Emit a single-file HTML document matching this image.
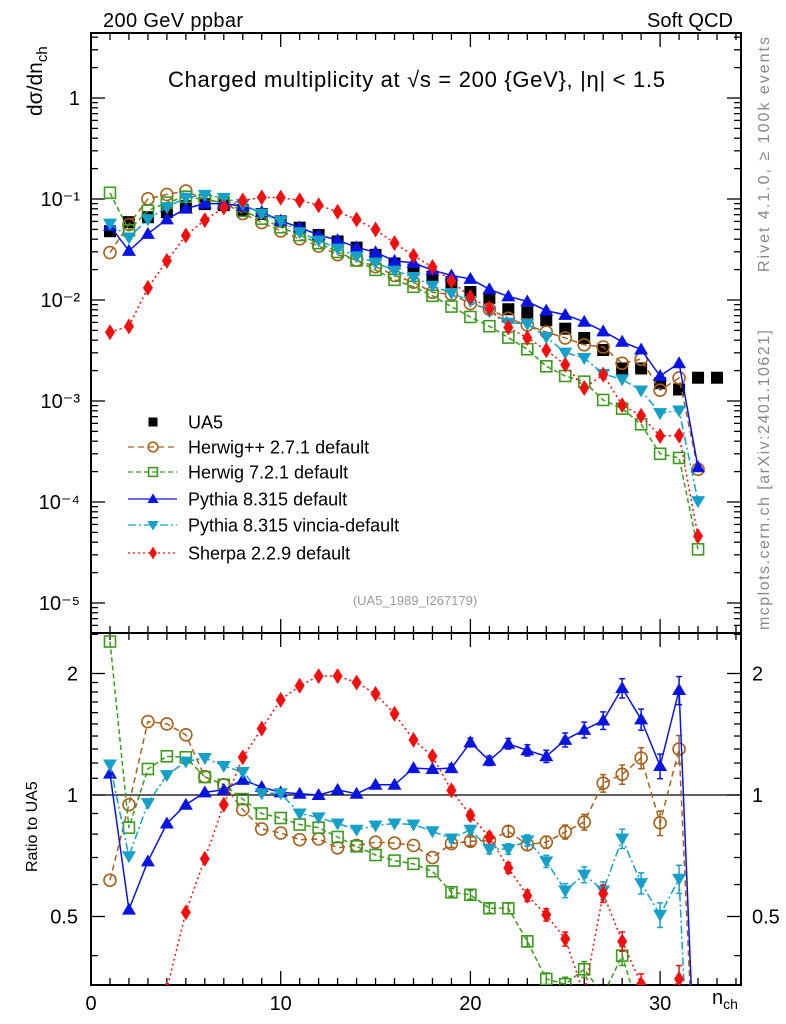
<!DOCTYPE html>
<html><head><meta charset="utf-8"><style>html,body{margin:0;background:#fff;overflow:hidden;width:786px;height:1024px}svg{display:block;font-family:"Liberation Sans",sans-serif}</style></head>
<body>
<svg id="c" width="786" height="1024" viewBox="0 0 786 1024">
<defs>
<clipPath id="cm"><rect x="91" y="33" width="650" height="600"/></clipPath>
<clipPath id="cr"><rect x="91" y="633" width="650" height="352"/></clipPath>
</defs>
<text x="103" y="27" font-size="20" textLength="140">200 GeV ppbar</text>
<text x="647" y="27" font-size="20" textLength="86">Soft QCD</text>
<text x="168" y="87" font-size="22" textLength="497">Charged multiplicity at √s = 200 {GeV}, |η| &lt; 1.5</text>
<text x="415" y="605" font-size="13" fill="#999" text-anchor="middle">(UA5_1989_I267179)</text>
<text transform="translate(42,116) rotate(-90)" font-size="21">dσ/dn<tspan font-size="15" dy="5">ch</tspan></text>
<text transform="translate(37,872) rotate(-90)" font-size="16">Ratio to UA5</text>
<text x="712" y="1004" font-size="20">n<tspan font-size="14" dy="5">ch</tspan></text>
<text transform="translate(769,272) rotate(-90)" font-size="16" fill="#888" textLength="235">Rivet 4.1.0, ≥ 100k events</text>
<text transform="translate(769,630) rotate(-90)" font-size="16" fill="#888" textLength="300">mcplots.cern.ch [arXiv:2401.10621]</text>
<g id="g"></g>
</svg>
<script>
const nch=[1,2,3,4,5,6,7,8,9,10,11,12,13,14,15,16,17,18,19,20,21,22,23,24,25,26,27,28,29,30,31,32,33];
const ua5=[0.048,0.059,0.066,0.074,0.085,0.089,0.087,0.078,0.071,0.06,0.052,0.044,0.038,0.033,0.028,0.023,0.020,0.017,0.015,0.012,0.0105,0.0081,0.0075,0.0063,0.0052,0.0042,0.0032,0.0021,0.0021,0.0015,0.0013,0.0017,0.0017];
const relErr=[0.01,0.01,0.01,0.01,0.01,0.01,0.01,0.01,0.01,0.01,0.012,0.012,0.013,0.014,0.015,0.016,0.018,0.02,0.022,0.025,0.027,0.03,0.032,0.035,0.04,0.045,0.05,0.055,0.06,0.07,0.08,0.09];
const rHerwigpp=[0.615,0.946,1.52,1.50,1.41,1.11,1.06,0.92,0.824,0.805,0.775,0.778,0.74,0.75,0.764,0.76,0.75,0.70,0.758,0.768,0.772,0.813,0.753,0.764,0.81,0.857,1.07,1.125,1.235,0.853,1.30,0.124];
const rHerwig7=[2.4,0.83,1.16,1.247,1.24,1.108,1.06,0.977,0.90,0.877,0.845,0.83,0.787,0.746,0.71,0.688,0.675,0.647,0.574,0.566,0.524,0.524,0.434,0.35,0.34,0.37,0.32,0.40,0.28,0.20,0.21,0.02];
const rPythia=[1.13,0.52,0.685,0.85,0.946,1.015,1.03,1.09,1.046,1.015,1.007,1.0,1.03,1.007,1.06,1.06,1.166,1.16,1.166,1.35,1.216,1.34,1.29,1.247,1.37,1.45,1.53,1.84,1.54,1.18,1.82,0.13];
const rVincia=[1.19,0.705,0.955,1.12,1.21,1.235,1.18,1.14,1.01,1.01,0.90,0.88,0.85,0.82,0.84,0.85,0.845,0.813,0.78,0.82,0.735,0.735,0.772,0.685,0.58,0.635,0.58,0.78,0.605,0.505,0.62,0.06];
const rSherpa=[0.1,0.093,0.2,0.33,0.512,0.695,0.946,1.24,1.46,1.72,1.865,1.97,1.97,1.90,1.78,1.59,1.37,1.247,1.027,0.89,0.787,0.66,0.563,0.505,0.44,0.32,0.57,0.434,0.34,0.30,0.35,0.027];
const xTicks=[0,10,20,30];
const yMainTicks=[1e-5,1e-4,1e-3,1e-2,1e-1,1];
const yMainLabels=["10⁻⁵","10⁻⁴","10⁻³","10⁻²","10⁻¹","1"];
const yRatTicks=[0.5,1,2];
const yRatLabels=["0.5","1","2"];

const NS="http://www.w3.org/2000/svg";
const G=document.getElementById('g');
const X0=91,X1=741,YM0=33,YM1=633,YR1=985;
const xs=n=>X0+18.97*n;
const ym=v=>98-101*Math.log10(v);
const yr=r=>795-121.5*Math.log2(r);
function mk(t,a,p){const e=document.createElementNS(NS,t);for(const k in a)e.setAttribute(k,a[k]);(p||G).appendChild(e);return e;}
// build path with each segment clipped to [ylo,yhi]; out-of-range segments dropped
function clipPath(pts,ylo,yhi){let d='';let last=null;
 for(let i=1;i<pts.length;i++){let [ax,ay]=pts[i-1],[bx,by]=pts[i];
  let t0=0,t1=1;const dy=by-ay;
  if(dy===0){if(ay<ylo||ay>yhi)continue;}
  else{let ta=(ylo-ay)/dy,tb=(yhi-ay)/dy;if(ta>tb)[ta,tb]=[tb,ta];t0=Math.max(0,ta);t1=Math.min(1,tb);if(t0>=t1)continue;}
  const p0=[ax+t0*(bx-ax),ay+t0*dy],p1=[ax+t1*(bx-ax),ay+t1*dy];
  if(!last||Math.abs(last[0]-p0[0])>0.01||Math.abs(last[1]-p0[1])>0.01)d+='M'+p0[0].toFixed(1)+','+p0[1].toFixed(1);
  d+='L'+p1[0].toFixed(1)+','+p1[1].toFixed(1);last=p1;}
 return d||'M0,0';}
let f1=mk('rect',{x:X0,y:YM0,width:X1-X0,height:YM1-YM0,fill:'none',stroke:'#000','stroke-width':2});


let f2=mk('rect',{x:X0,y:YM1,width:X1-X0,height:YR1-YM1,fill:'none',stroke:'#000','stroke-width':2});


let one=mk('line',{x1:X0,x2:X1,y1:yr(1),y2:yr(1),stroke:'#000','stroke-width':1.3});


for(let n=0;n<=34;n++){const L=n%10===0?14:7;const x=xs(n);
 for(const [ya,d] of [[YM0,1],[YM1,-1],[YM1,1],[YR1,-1]]) mk('line',{x1:x,x2:x,y1:ya,y2:ya+d*L,stroke:'#000','stroke-width':1.3});}
xTicks.forEach(v=>{const t=mk('text',{x:xs(v),y:1010,'font-size':20,'text-anchor':'middle'});t.textContent=v;
 
 });
for(let e=-6;e<=0;e++)for(let m=1;m<=9;m++){const v=m*Math.pow(10,e);const y=ym(v);if(y<YM0||y>YM1)continue;const L=m===1?14:7;
 mk('line',{x1:X0,x2:X0+L,y1:y,y2:y,stroke:'#000','stroke-width':1.3});mk('line',{x1:X1,x2:X1-L,y1:y,y2:y,stroke:'#000','stroke-width':1.3});}
yMainTicks.forEach((v,i)=>{const t=mk('text',{x:80,y:ym(v)+7,'font-size':20,'text-anchor':'end'});t.textContent=yMainLabels[i];
 
 });
[0.3,0.4,0.5,0.6,0.7,0.8,0.9,1,1.1,1.2,1.3,1.4,1.5,1.6,1.7,1.8,1.9,2,2.5].forEach(v=>{const y=yr(v);if(y<YM1||y>YR1)return;const L=(v===0.5||v===1||v===2)?14:7;
 mk('line',{x1:X0,x2:X0+L,y1:y,y2:y,stroke:'#000','stroke-width':1.3});mk('line',{x1:X1,x2:X1-L,y1:y,y2:y,stroke:'#000','stroke-width':1.3});});
yRatTicks.forEach((v,i)=>{for(const [x,a] of [[78,'end'],[752,'start']]){const t=mk('text',{x:x,y:yr(v)+7,'font-size':20,'text-anchor':a});t.textContent=yRatLabels[i];
 
 }});
function marker(p,type,x,y,col,k){k=k||1;const s=6*k;
 if(type==='sq')return mk('rect',{x:x-s,y:y-s,width:2*s,height:2*s,fill:'#000'},p);
 if(type==='osq')return mk('rect',{x:x-5.5*k,y:y-5.5*k,width:11*k,height:11*k,fill:'none',stroke:col,'stroke-width':1.6},p);
 if(type==='oc')return mk('circle',{cx:x,cy:y,r:6*k,fill:'none',stroke:col,'stroke-width':1.6},p);
 if(type==='tu')return mk('polygon',{points:`${x},${y-7*k} ${x-7*k},${y+5*k} ${x+7*k},${y+5*k}`,fill:col},p);
 if(type==='td')return mk('polygon',{points:`${x},${y+7*k} ${x-7*k},${y-5*k} ${x+7*k},${y-5*k}`,fill:col},p);
 if(type==='di')return mk('polygon',{points:`${x},${y-8*k} ${x-5*k},${y} ${x},${y+8*k} ${x+5*k},${y}`,fill:col},p);}
const series=[
 {name:'herwigpp',label:'Herwig++ 2.7.1 default',r:rHerwigpp,col:'#a5601c',dash:'6,4',m:'oc'},
 {name:'herwig7',label:'Herwig 7.2.1 default',r:rHerwig7,col:'#3d9a1e',dash:'5,3',m:'osq'},
 {name:'pythia',label:'Pythia 8.315 default',r:rPythia,col:'#0a14e0',dash:'',m:'tu'},
 {name:'vincia',label:'Pythia 8.315 vincia-default',r:rVincia,col:'#16a0c8',dash:'8,3,2,3',m:'td'},
 {name:'sherpa',label:'Sherpa 2.2.9 default',r:rSherpa,col:'#f01010',dash:'2,3',m:'di'}];
const gm=mk('g',{'clip-path':'url(#cm)'});const gr=mk('g',{'clip-path':'url(#cr)'});
ua5.forEach((v,i)=>{const e=marker(gm,'sq',xs(nch[i]),ym(v));
 
 });
series.forEach(s=>{
 const vals=s.r.map((r,i)=>r*ua5[i]);
 const pm=clipPath(vals.map((v,i)=>[xs(nch[i]),ym(v)]),YM0,YM1);
 const l1=mk('path',{d:pm,fill:'none',stroke:s.col,'stroke-width':1.5,'stroke-dasharray':s.dash},gm);
 
 
 const pr=clipPath(s.r.map((r,i)=>[xs(nch[i]),yr(r)]),YM1,YR1);
 const l2=mk('path',{d:pr,fill:'none',stroke:s.col,'stroke-width':1.5,'stroke-dasharray':s.dash},gr);
 
 
 vals.forEach((v,i)=>{const y=ym(v);if(y>YM1+10)return;const e=marker(gm,s.m,xs(nch[i]),y,s.col);
  
  });
 s.r.forEach((r,i)=>{const x=xs(nch[i]);const y=yr(r);if(y>YR1+10)return;const er=r*relErr[i];
  const ya=yr(r+er),yb=Math.min(yr(r-er),YR1+5);
  if(er*121.5/r>2.5){mk('line',{x1:x,x2:x,y1:ya,y2:yb,stroke:s.col,'stroke-width':1.5},gr);
   mk('line',{x1:x-3,x2:x+3,y1:ya,y2:ya,stroke:s.col,'stroke-width':1.5},gr);
   mk('line',{x1:x-3,x2:x+3,y1:yb,y2:yb,stroke:s.col,'stroke-width':1.5},gr);}
  const e=marker(gr,s.m,x,y,s.col);
  
  });
});
const lg=mk('g',{});


const ly=[422,447,472,499,525,553];
marker(lg,'sq',153,ly[0],'#000',0.75);
let t0=mk('text',{x:188,y:ly[0]+6.5,'font-size':18},lg);t0.textContent='UA5';


series.forEach((s,k)=>{const y=ly[k+1];
 mk('line',{x1:128,x2:177,y1:y,y2:y,stroke:s.col,'stroke-width':1.3,'stroke-dasharray':s.dash},lg);
 marker(lg,s.m,153,y,s.col,0.8);
 const t=mk('text',{x:188,y:y+6.5,'font-size':18},lg);t.textContent=s.label;
 
 });
</script>
</body></html>
